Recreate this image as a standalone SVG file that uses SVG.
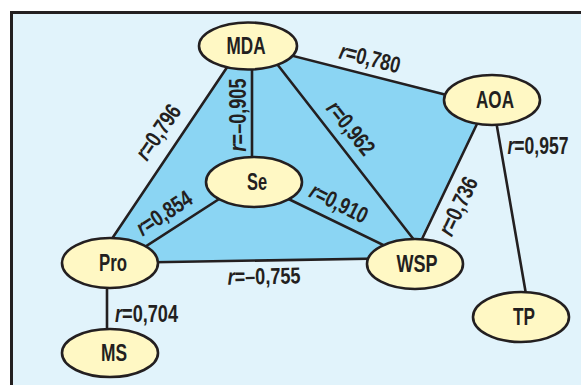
<svg xmlns="http://www.w3.org/2000/svg" width="581" height="385" viewBox="0 0 581 385">
  <style>
    .frame { fill: #E1F3FB; stroke: #231F20; stroke-width: 3; }
    .area { fill: #8BD5F3; stroke: none; }
    .edge { stroke: #231F20; stroke-width: 2.6; fill: none; stroke-linecap: round; }
    .node ellipse { fill: #FFF8C4; stroke: #231F20; stroke-width: 2.6; }
    .node text { font-family: "Liberation Sans", Arial, sans-serif; font-weight: bold; font-size: 24px; fill: #231F20; text-anchor: middle; }
    .lbl { font-family: "Liberation Sans", Arial, sans-serif; font-weight: bold; font-size: 23px; fill: #231F20; text-anchor: middle; }
    .it { font-style: italic; }
  </style>

  <!-- panel background -->
  <rect class="frame" x="11.5" y="12.5" width="620" height="420"/>

  <!-- shaded quadrilateral MDA-AOA-WSP-Pro -->
  <polygon class="area" points="95,264 242,45 487,103 411,258"/>

  <g id="connectors">
    <line class="edge" x1="95" y1="264" x2="240" y2="48"/>
    <line class="edge" x1="250" y1="45" x2="482" y2="104"/>
    <line class="edge" x1="487" y1="103" x2="411" y2="262"/>
    <line class="edge" x1="110" y1="263" x2="411" y2="258"/>
    <line class="edge" x1="252" y1="60" x2="252" y2="170"/>
    <line class="edge" x1="270" y1="55" x2="418" y2="245"/>
    <line class="edge" x1="230" y1="192" x2="120" y2="263"/>
    <line class="edge" x1="270" y1="190" x2="410" y2="258"/>
    <line class="edge" x1="495" y1="115" x2="527" y2="300"/>
    <line class="edge" x1="107" y1="280" x2="107" y2="340"/>
  </g>

  <g id="labels">
    <text class="lbl" transform="translate(370,58) rotate(14.2)" x="0" y="8" textLength="62" lengthAdjust="spacingAndGlyphs"><tspan class="it">r</tspan>=0,780</text>
    <text class="lbl" transform="translate(158,132) rotate(-55.6)" x="0" y="8" textLength="62" lengthAdjust="spacingAndGlyphs"><tspan class="it">r</tspan>=0,796</text>
    <text class="lbl" transform="translate(238,115) rotate(-90)" x="0" y="8" textLength="73" lengthAdjust="spacingAndGlyphs"><tspan class="it">r</tspan>=–0,905</text>
    <text class="lbl" transform="translate(351,128) rotate(51.3)" x="0" y="8" textLength="62" lengthAdjust="spacingAndGlyphs"><tspan class="it">r</tspan>=0,962</text>
    <text class="lbl" transform="translate(164,213) rotate(-33.5)" x="0" y="8" textLength="62" lengthAdjust="spacingAndGlyphs"><tspan class="it">r</tspan>=0,854</text>
    <text class="lbl" transform="translate(339,203) rotate(26.6)" x="0" y="8" textLength="62" lengthAdjust="spacingAndGlyphs"><tspan class="it">r</tspan>=0,910</text>
    <text class="lbl" transform="translate(458,206) rotate(-64.4)" x="0" y="8" textLength="62" lengthAdjust="spacingAndGlyphs"><tspan class="it">r</tspan>=0,736</text>
    <text class="lbl" x="538" y="154" textLength="61" lengthAdjust="spacingAndGlyphs"><tspan class="it">r</tspan>=0,957</text>
    <text class="lbl" transform="translate(264,276) rotate(-1)" x="0" y="8" textLength="73" lengthAdjust="spacingAndGlyphs"><tspan class="it">r</tspan>=–0,755</text>
    <text class="lbl" x="146.5" y="322" textLength="63" lengthAdjust="spacingAndGlyphs"><tspan class="it">r</tspan>=0,704</text>
  </g>

  <g id="node-MDA" class="node">
    <ellipse cx="248" cy="46" rx="49" ry="23.5"/>
    <text x="246" y="54" textLength="39" lengthAdjust="spacingAndGlyphs">MDA</text>
  </g>
  <g id="node-AOA" class="node">
    <ellipse cx="492" cy="100" rx="48" ry="25"/>
    <text x="495" y="108" textLength="38" lengthAdjust="spacingAndGlyphs">AOA</text>
  </g>
  <g id="node-Se" class="node">
    <ellipse cx="254" cy="182" rx="48" ry="25"/>
    <text x="257" y="190" textLength="20" lengthAdjust="spacingAndGlyphs">Se</text>
  </g>
  <g id="node-Pro" class="node">
    <ellipse cx="110" cy="263" rx="48" ry="25"/>
    <text x="113" y="271" textLength="28" lengthAdjust="spacingAndGlyphs">Pro</text>
  </g>
  <g id="node-WSP" class="node">
    <ellipse cx="415" cy="264" rx="48" ry="25"/>
    <text x="417" y="272" textLength="41" lengthAdjust="spacingAndGlyphs">WSP</text>
  </g>
  <g id="node-MS" class="node">
    <ellipse cx="110" cy="353" rx="48" ry="24"/>
    <text x="114" y="361" textLength="26" lengthAdjust="spacingAndGlyphs">MS</text>
  </g>
  <g id="node-TP" class="node">
    <ellipse cx="521" cy="317" rx="48" ry="25"/>
    <text x="524" y="325" textLength="22" lengthAdjust="spacingAndGlyphs">TP</text>
  </g>
</svg>
